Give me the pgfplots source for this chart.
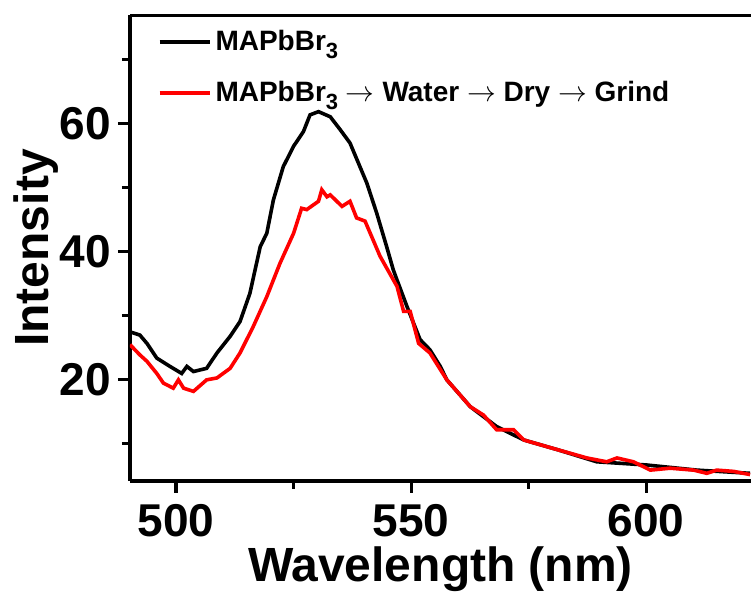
\documentclass[border=0pt]{standalone}
\usepackage{fontspec}
\setmainfont{Liberation Sans}
\usepackage{pgfplots}
\pgfplotsset{compat=1.18}
\newcommand{\sub}{\raisebox{-4pt}{\fontsize{11}{11}\selectfont 3}}
\newcommand{\arr}{\;$\rightarrow$\;}
\begin{document}
\begin{tikzpicture}
\begin{axis}[
  scale only axis,
  width=310.5pt, height=233pt,
  xmin=490.2, xmax=622.3, ymin=4.2, ymax=77,
  axis x line*=bottom, axis y line*=left,
  axis line style={line width=2pt},
  xtick={500,550,600}, ytick={20,40,60},
  minor xtick={525,575}, minor ytick={10,30,50,70},
  tick align=outside,
  major tick length=6pt, minor tick length=4pt,
  every major tick/.append style={line width=1.6pt, black},
  every minor tick/.append style={line width=1.6pt, black},
  /pgf/number format/assume math mode=true,
  tick label style={font=\fontsize{23}{23}\selectfont\bfseries},
  xticklabel style={yshift=-2pt},
  xlabel={Wavelength (nm)}, ylabel={Intensity},
  label style={font=\fontsize{24}{24}\selectfont\bfseries},
  xlabel style={yshift=2pt},
  ylabel style={yshift=-6pt},
  legend style={draw=none, fill=none, at={(0.034,0.985)}, anchor=north west,
    font=\fontsize{14}{14}\selectfont\bfseries, row sep=10pt},
  legend cell align=left,
  legend image code/.code={\draw[#1, line width=2pt] (0pt,0pt) -- (25pt,0pt);},
  clip=true,
]
\addplot[black, line width=1.8pt] coordinates {
(490.2,27.5)(492.3,27.0)(493.8,25.7)(495.9,23.4)(498.7,22.1)(501.2,21.0)(502.3,22.1)(503.7,21.3)(506.5,21.8)(508.7,24.2)(511.5,26.8)(513.6,29.1)(515.7,33.5)(517.9,40.8)(519.3,42.9)(520.7,48.1)(522.8,53.3)(525.0,56.5)(527.1,58.8)(528.5,61.4)(530.3,61.9)(532.8,61.1)(534.9,59.1)(537.0,57.0)(540.6,50.7)(542.7,46.0)(544.8,40.8)(546.2,37.2)(547.0,35.6)(549.1,31.5)(551.9,26.3)(554.0,24.7)(556.2,22.1)(557.6,20.0)(562.6,15.8)(568.2,12.7)(574.0,10.6)(581.1,9.1)(589.5,7.2)(600.1,6.7)(610.8,5.9)(622.1,5.4)
};
\addlegendentry{MAPbBr\sub}
\addplot[red, line width=1.8pt] coordinates {
(490.2,25.5)(492.3,23.9)(493.8,22.9)(495.9,21.0)(497.3,19.5)(499.4,18.7)(500.5,20.0)(501.6,18.7)(503.7,18.2)(506.5,20.0)(508.7,20.3)(511.5,21.8)(513.6,24.2)(516.4,28.3)(519.3,33.0)(522.1,38.2)(525.0,42.9)(526.7,46.8)(527.8,46.6)(530.3,47.9)(531.0,49.7)(532.1,48.6)(532.8,48.9)(535.3,47.1)(537.0,47.9)(538.4,45.3)(540.2,44.8)(543.4,39.3)(547.0,34.6)(548.4,30.7)(549.8,30.7)(551.6,25.7)(554.0,24.2)(557.6,20.0)(562.6,15.8)(565.4,14.5)(568.2,12.2)(571.8,12.2)(574.0,10.6)(581.1,9.1)(587.4,7.8)(591.6,7.2)(593.8,7.8)(597.3,7.2)(600.9,5.9)(605.1,6.2)(610.1,5.9)(612.9,5.4)(615.0,5.9)(618.6,5.7)(622.1,5.2)
};
\addlegendentry{MAPbBr\sub\arr Water\arr Dry\arr Grind}
\draw[line width=2pt] (rel axis cs:0,1) -- (rel axis cs:1,1);
\end{axis}
\pgfresetboundingbox
\path (-65pt,-56.5pt) rectangle (310.5pt,240.5pt);
\end{tikzpicture}
\end{document}
